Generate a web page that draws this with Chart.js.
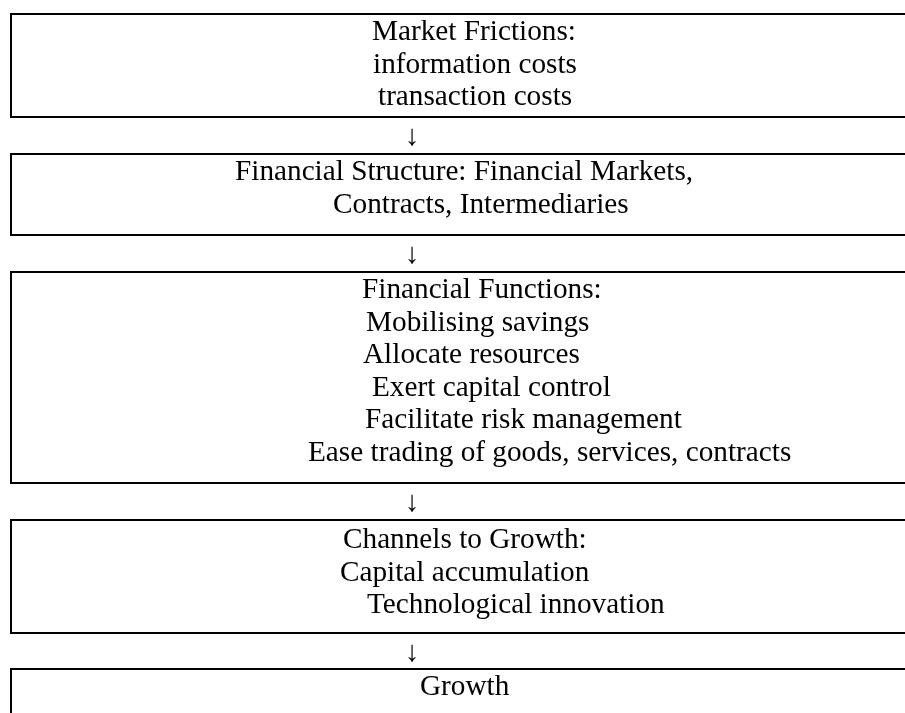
<!DOCTYPE html>
<html>
<head>
<meta charset="utf-8">
<script src="https://cdn.jsdelivr.net/npm/chart.js@4.4.1/dist/chart.umd.min.js"></script>
<style>
  html, body { margin: 0; padding: 0; background: #fff; }
  #wrap { width: 905px; height: 713px; }
</style>
</head>
<body>
<div id="wrap"><canvas id="myChart" width="905" height="713"></canvas></div>
<script>
// Flow chart content, one list per box
var box_titles = [
  "Market Frictions:",
  "Financial Structure: Financial Markets,",
  "Financial Functions:",
  "Channels to Growth:",
  "Growth"
];
var box_items = [
  ["information costs", "transaction costs"],
  ["Contracts, Intermediaries"],
  ["Mobilising savings", "Allocate resources", "Exert capital control",
   "Facilitate risk management", "Ease trading of goods, services, contracts"],
  ["Capital accumulation", "Technological innovation"],
  []
];
var arrow_label = "\u2193";

// Layout (diagram units = pixels of the 905x713 sheet)
var box_top = [14, 154, 272, 520, 669];
var box_bottom = [117, 235, 483, 633, 730];
var box_left = 11, box_right = 930;
var first_baseline = [40, 180, 298, 548, 695];
var line_step = 32.5;
var line_left = [
  [372, 373, 378],
  [235, 333],
  [362, 366, 363, 372, 365, 308],
  [343, 340, 367],
  [420]
];
var arrow_x = 412;

// Build one line dataset per box outline (open on the right)
var outline_sets = [];
for (i = 0; i < box_top.length; i++) {
  outline_sets.push({
    data: [
      { x: box_right, y: box_top[i] },
      { x: box_left, y: box_top[i] },
      { x: box_left, y: box_bottom[i] },
      { x: box_right, y: box_bottom[i] }
    ],
    showLine: true,
    borderColor: "#000",
    borderWidth: 2,
    pointRadius: 0,
    tension: 0,
    fill: false
  });
}

// Draw the box texts and arrows through the chart scales
var textPlugin = {
  id: "boxText",
  afterDatasetsDraw: function (chart) {
    var ctx = chart.ctx, sx = chart.scales.x, sy = chart.scales.y;
    ctx.save();
    ctx.fillStyle = "#000";
    ctx.font = "29.25px 'Liberation Serif', 'Times New Roman', serif";
    ctx.textBaseline = "alphabetic";
    for (i = 0; i < box_titles.length; i++) {
      var lines = [box_titles[i]].concat(box_items[i]);
      ctx.textAlign = "left";
      for (j = 0; j < lines.length; j++) {
        ctx.fillText(lines[j], sx.getPixelForValue(line_left[i][j]),
          sy.getPixelForValue(first_baseline[i] + j * line_step));
      }
      if (i < box_titles.length - 1) {
        ctx.textAlign = "center";
        ctx.fillText(arrow_label, sx.getPixelForValue(arrow_x),
          sy.getPixelForValue(box_bottom[i] + 28));
      }
    }
    ctx.restore();
  }
};

var ctx = document.getElementById("myChart").getContext("2d");
var myChart = new Chart(ctx, {
  type: "scatter",
  data: { datasets: outline_sets },
  options: {
    responsive: false,
    animation: false,
    layout: { padding: 0 },
    plugins: { legend: { display: false }, tooltip: { enabled: false } },
    scales: {
      x: { type: "linear", min: 0, max: 905, display: false },
      y: { type: "linear", min: 0, max: 713, reverse: true, display: false }
    },
    elements: { line: { borderCapStyle: "butt", borderJoinStyle: "miter" } }
  },
  plugins: [textPlugin]
});
</script>
</body>
</html>
